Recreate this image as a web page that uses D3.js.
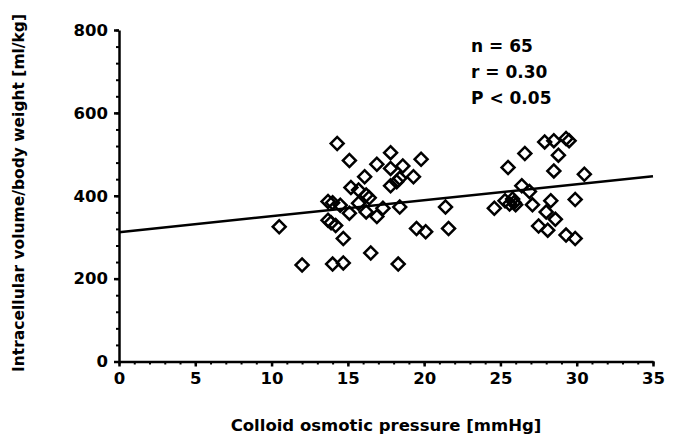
<!DOCTYPE html>
<html>
<head>
<meta charset="utf-8">
<script src="https://cdn.jsdelivr.net/npm/d3@7"></script>
<style>
  body { margin: 0; background: #fff; }
  text { font-family: "DejaVu Sans", sans-serif; font-weight: bold; fill: #000; }
</style>
</head>
<body>
<div id="chart"></div>
<script>
// Datos
var pressure = [
  10.5, 12.0, 13.7, 14.0, 14.5, 13.7, 13.9, 14.2, 14.3, 14.0, 14.7, 14.7,
  15.1, 15.1, 15.2, 15.7, 15.7, 16.1, 16.2, 16.4, 16.2, 16.5, 16.9, 16.9, 17.3,
  17.8, 17.8, 17.8, 18.2, 18.4, 18.6, 18.4, 18.3, 19.3, 19.8, 19.5, 20.1, 21.4, 21.6,
  24.6, 25.3, 25.5, 25.6, 25.8, 26.0, 25.9, 26.4, 26.6, 26.9, 27.1,
  27.5, 27.9, 28.0, 28.1, 28.3, 28.5, 28.5, 28.6, 28.8,
  29.3, 29.5, 29.3, 29.9, 29.9, 30.5
];
var volume = [
  325, 233, 386, 383, 377, 341, 335, 328, 526, 235, 238, 297,
  485, 358, 420, 414, 382, 446, 402, 395, 361, 262, 476, 350, 370,
  504, 466, 424, 434, 442, 472, 373, 235, 446, 488, 321, 313, 373, 321,
  370, 388, 468, 380, 392, 378, 384, 424, 502, 410, 378,
  327, 530, 361, 317, 388, 533, 460, 343, 498,
  538, 533, 305, 297, 391, 452
];
// Recta de regresión (extremos)
var fitX = [0, 35];
var fitY = [312, 447];
var xTicks = [0, 5, 10, 15, 20, 25, 30, 35];
var yTicks = [0, 200, 400, 600, 800];
var stats = ["n = 65", "r = 0.30", "P < 0.05"];

var width = 680, height = 441;
var svg = d3.select("#chart").append("svg")
    .attr("width", width)
    .attr("height", height);

var x = d3.scaleLinear().domain([0, 35]).range([119, 653]);
var y = d3.scaleLinear().domain([0, 800]).range([361.5, 30]);

// Ticks menores
svg.append("g")
    .attr("transform", "translate(0,361.5)")
    .call(d3.axisBottom(x).tickValues(d3.range(0, 36, 1)).tickSize(3).tickFormat(""))
    .call(g => g.select(".domain").remove())
    .selectAll("line").attr("stroke-width", 2);

svg.append("g")
    .attr("transform", "translate(119,0)")
    .call(d3.axisLeft(y).tickValues(d3.range(0, 801, 40)).tickSize(3).tickFormat(""))
    .call(g => g.select(".domain").remove())
    .selectAll("line").attr("stroke-width", 2);

// Ejes principales
var xAxis = svg.append("g")
    .attr("transform", "translate(0,361.5)")
    .call(d3.axisBottom(x).tickValues(xTicks).tickSize(5).tickSizeOuter(0).tickPadding(6));
var yAxis = svg.append("g")
    .attr("transform", "translate(119,0)")
    .call(d3.axisLeft(y).tickValues(yTicks).tickSize(5).tickSizeOuter(0).tickPadding(6));

[xAxis, yAxis].forEach(function (g) {
    g.select(".domain").attr("stroke-width", 2.5);
    g.selectAll("line").attr("stroke-width", 2.5);
    g.selectAll("text")
        .style("font-family", "'DejaVu Sans', sans-serif")
        .style("font-weight", "bold")
        .style("font-size", "16.5px");
});

// Recta de regresión
svg.append("line")
    .attr("x1", x(fitX[0])).attr("y1", y(fitY[0]))
    .attr("x2", x(fitX[1])).attr("y2", y(fitY[1]))
    .attr("stroke", "#000")
    .attr("stroke-width", 2.5);

// Puntos (rombos)
var diamond = d3.symbol().type(d3.symbolSquare).size(84);
svg.selectAll("path.pt")
    .data(pressure.map(function (p, i) { return [p, volume[i]]; }))
    .enter()
    .append("path")
    .attr("class", "pt")
    .attr("d", diamond)
    .attr("transform", function (d) { return "translate(" + x(d[0]) + "," + y(d[1]) + ") rotate(45)"; })
    .attr("fill", "none")
    .attr("stroke", "#000")
    .attr("stroke-width", 2.5);

// Estadísticos
svg.selectAll("text.stat")
    .data(stats)
    .enter()
    .append("text")
    .attr("class", "stat")
    .attr("x", 471)
    .attr("y", function (d, i) { return 52 + i * 26; })
    .style("font-size", "17px")
    .text(function (d) { return d; });

// Títulos de ejes
svg.append("text")
    .attr("x", 386)
    .attr("y", 431)
    .attr("text-anchor", "middle")
    .style("font-size", "16.5px")
    .text("Colloid osmotic pressure [mmHg]");

svg.append("text")
    .attr("transform", "translate(24,193) rotate(-90)")
    .attr("text-anchor", "middle")
    .style("font-size", "15.5px")
    .text("Intracellular volume/body weight [ml/kg]");
</script>
</body>
</html>
